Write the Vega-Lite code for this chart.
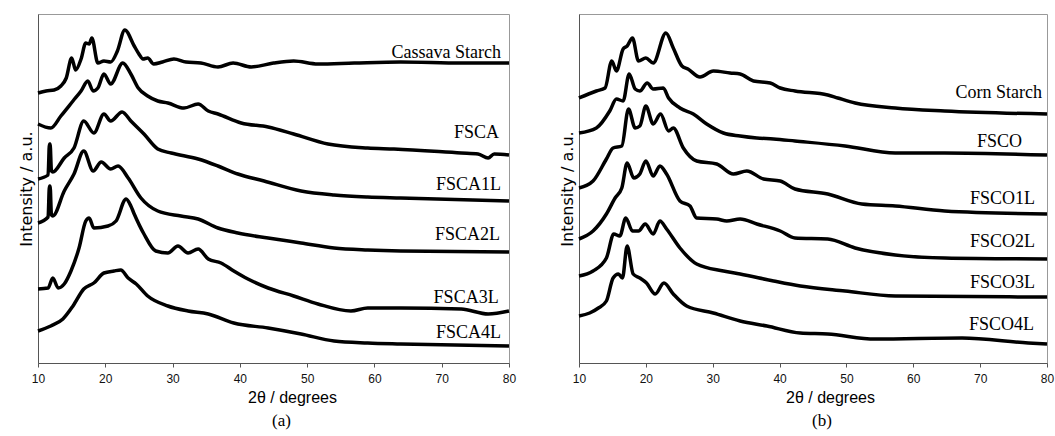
{
  "$schema": "https://vega.github.io/schema/vega-lite/v6.json",
  "padding": {"left": 17, "top": 13, "right": 5, "bottom": 0},
  "spacing": 41,
  "background": "white",
  "config": {
    "view": {"stroke": "#999", "strokeWidth": 1},
    "axis": {"grid": false, "domainColor": "#555", "tickColor": "#555", "labelColor": "#111", "titleColor": "#000", "titleFontWeight": "normal"}
  },
  "datasets": {
    "a": [
      {"s":"C","x":10,"y":270},{"s":"C","x":11.2,"y":272},{"s":"C","x":12.4,"y":273},{"s":"C","x":13.4,"y":277},{"s":"C","x":14.2,"y":285},{"s":"C","x":15.0,"y":305},{"s":"C","x":15.6,"y":293},{"s":"C","x":16.4,"y":304},{"s":"C","x":17.1,"y":320},{"s":"C","x":17.6,"y":319},{"s":"C","x":18.0,"y":325},{"s":"C","x":18.9,"y":300},{"s":"C","x":19.8,"y":302},{"s":"C","x":20.8,"y":301},{"s":"C","x":21.8,"y":312},{"s":"C","x":22.9,"y":333},{"s":"C","x":24.3,"y":317},{"s":"C","x":25.0,"y":309},{"s":"C","x":25.6,"y":304},{"s":"C","x":26.3,"y":305},{"s":"C","x":27.2,"y":299},{"s":"C","x":28.5,"y":301},{"s":"C","x":30.2,"y":304},{"s":"C","x":32.0,"y":301},{"s":"C","x":34.2,"y":300},{"s":"C","x":36.75,"y":296},{"s":"C","x":39.0,"y":300},{"s":"C","x":41.7,"y":296},{"s":"C","x":45.0,"y":300},{"s":"C","x":48.0,"y":302},{"s":"C","x":51.6,"y":299},{"s":"C","x":57.0,"y":300},{"s":"C","x":63.9,"y":301},{"s":"C","x":72.9,"y":300},{"s":"C","x":80,"y":300},
      {"s":"A","x":10,"y":239},{"s":"A","x":11.9,"y":235},{"s":"A","x":13.4,"y":247},{"s":"A","x":15.2,"y":262},{"s":"A","x":16.4,"y":272},{"s":"A","x":17.4,"y":282},{"s":"A","x":18.2,"y":272},{"s":"A","x":18.9,"y":275},{"s":"A","x":19.8,"y":289},{"s":"A","x":20.8,"y":279},{"s":"A","x":22.6,"y":300},{"s":"A","x":23.8,"y":289},{"s":"A","x":24.9,"y":275},{"s":"A","x":26.3,"y":267},{"s":"A","x":27.8,"y":262},{"s":"A","x":29.3,"y":260},{"s":"A","x":31.7,"y":255},{"s":"A","x":33.8,"y":259},{"s":"A","x":35.3,"y":252},{"s":"A","x":36.75,"y":249},{"s":"A","x":40.2,"y":240},{"s":"A","x":44.2,"y":236},{"s":"A","x":48.0,"y":229},{"s":"A","x":53.1,"y":219},{"s":"A","x":59.0,"y":215},{"s":"A","x":62.9,"y":214},{"s":"A","x":72.9,"y":210},{"s":"A","x":75.4,"y":209},{"s":"A","x":76.9,"y":205},{"s":"A","x":77.8,"y":209},{"s":"A","x":80,"y":208},
      {"s":"A1","x":10,"y":184},{"s":"A1","x":11.5,"y":188},{"s":"A1","x":11.7,"y":219},{"s":"A1","x":11.8,"y":219},{"s":"A1","x":12.0,"y":192},{"s":"A1","x":12.2,"y":191},{"s":"A1","x":13.9,"y":205},{"s":"A1","x":15.35,"y":215},{"s":"A1","x":16.8,"y":242},{"s":"A1","x":18.3,"y":230},{"s":"A1","x":19.8,"y":249},{"s":"A1","x":20.8,"y":242},{"s":"A1","x":22.5,"y":251},{"s":"A1","x":23.8,"y":242},{"s":"A1","x":25.75,"y":229},{"s":"A1","x":27.8,"y":214},{"s":"A1","x":29.8,"y":210},{"s":"A1","x":33.8,"y":204},{"s":"A1","x":36.75,"y":197},{"s":"A1","x":39.7,"y":189},{"s":"A1","x":43.6,"y":182},{"s":"A1","x":49.1,"y":172},{"s":"A1","x":54.0,"y":168},{"s":"A1","x":59.0,"y":166},{"s":"A1","x":63.9,"y":165},{"s":"A1","x":80,"y":162},
      {"s":"A2","x":10,"y":140},{"s":"A2","x":11.5,"y":146},{"s":"A2","x":11.7,"y":177},{"s":"A2","x":11.8,"y":177},{"s":"A2","x":12.0,"y":148},{"s":"A2","x":12.2,"y":147},{"s":"A2","x":13.9,"y":172},{"s":"A2","x":15.35,"y":189},{"s":"A2","x":16.8,"y":212},{"s":"A2","x":18.2,"y":192},{"s":"A2","x":19.4,"y":201},{"s":"A2","x":20.8,"y":194},{"s":"A2","x":21.9,"y":197},{"s":"A2","x":23.4,"y":185},{"s":"A2","x":25.3,"y":165},{"s":"A2","x":27.8,"y":152},{"s":"A2","x":31.25,"y":147},{"s":"A2","x":33.8,"y":144},{"s":"A2","x":36.75,"y":135},{"s":"A2","x":39.7,"y":130},{"s":"A2","x":44.2,"y":125},{"s":"A2","x":49.1,"y":120},{"s":"A2","x":54.0,"y":115},{"s":"A2","x":59.0,"y":113},{"s":"A2","x":63.9,"y":112},{"s":"A2","x":80,"y":111},
      {"s":"A3","x":10,"y":74},{"s":"A3","x":11.5,"y":75},{"s":"A3","x":12.2,"y":85},{"s":"A3","x":13.0,"y":75},{"s":"A3","x":13.9,"y":79},{"s":"A3","x":14.9,"y":92},{"s":"A3","x":16.1,"y":115},{"s":"A3","x":17.1,"y":142},{"s":"A3","x":17.6,"y":145},{"s":"A3","x":18.3,"y":135},{"s":"A3","x":20.4,"y":137},{"s":"A3","x":21.6,"y":142},{"s":"A3","x":23.1,"y":164},{"s":"A3","x":23.8,"y":157},{"s":"A3","x":24.3,"y":149},{"s":"A3","x":25.75,"y":129},{"s":"A3","x":27.5,"y":112},{"s":"A3","x":29.3,"y":110},{"s":"A3","x":30.8,"y":117},{"s":"A3","x":32.3,"y":110},{"s":"A3","x":33.8,"y":114},{"s":"A3","x":35.3,"y":104},{"s":"A3","x":37.2,"y":100},{"s":"A3","x":39.1,"y":92},{"s":"A3","x":41.2,"y":84},{"s":"A3","x":44.2,"y":75},{"s":"A3","x":48.0,"y":67},{"s":"A3","x":51.6,"y":59},{"s":"A3","x":56.5,"y":52},{"s":"A3","x":59.0,"y":55},{"s":"A3","x":63.9,"y":55},{"s":"A3","x":72.9,"y":54},{"s":"A3","x":76.9,"y":49},{"s":"A3","x":80,"y":52},
      {"s":"A4","x":10,"y":32},{"s":"A4","x":11.9,"y":37},{"s":"A4","x":13.7,"y":44},{"s":"A4","x":15.2,"y":57},{"s":"A4","x":16.8,"y":74},{"s":"A4","x":18.3,"y":80},{"s":"A4","x":19.8,"y":90},{"s":"A4","x":21.3,"y":92},{"s":"A4","x":22.3,"y":93},{"s":"A4","x":23.4,"y":85},{"s":"A4","x":24.6,"y":79},{"s":"A4","x":26.3,"y":67},{"s":"A4","x":29.3,"y":57},{"s":"A4","x":32.3,"y":52},{"s":"A4","x":35.3,"y":49},{"s":"A4","x":39.1,"y":40},{"s":"A4","x":44.2,"y":35},{"s":"A4","x":49.1,"y":29},{"s":"A4","x":54.0,"y":22},{"s":"A4","x":59.0,"y":20},{"s":"A4","x":63.9,"y":19},{"s":"A4","x":80,"y":17}
    ],
    "b": [
      {"s":"C","x":10,"y":265},{"s":"C","x":12.6,"y":272},{"s":"C","x":13.9,"y":275},{"s":"C","x":14.9,"y":302},{"s":"C","x":15.6,"y":292},{"s":"C","x":16.6,"y":314},{"s":"C","x":17.2,"y":317},{"s":"C","x":18.0,"y":325},{"s":"C","x":18.9,"y":302},{"s":"C","x":20.0,"y":305},{"s":"C","x":21.1,"y":300},{"s":"C","x":23.0,"y":330},{"s":"C","x":24.1,"y":315},{"s":"C","x":25.4,"y":297},{"s":"C","x":26.3,"y":294},{"s":"C","x":28.1,"y":286},{"s":"C","x":30.1,"y":292},{"s":"C","x":32.6,"y":290},{"s":"C","x":34.1,"y":289},{"s":"C","x":36.1,"y":282},{"s":"C","x":38.6,"y":280},{"s":"C","x":40.1,"y":275},{"s":"C","x":42.3,"y":272},{"s":"C","x":47.2,"y":268},{"s":"C","x":48.7,"y":265},{"s":"C","x":51.3,"y":260},{"s":"C","x":57.3,"y":255},{"s":"C","x":64.7,"y":252},{"s":"C","x":80,"y":249},
      {"s":"O","x":10,"y":230},{"s":"O","x":12.6,"y":235},{"s":"O","x":14.6,"y":252},{"s":"O","x":15.6,"y":264},{"s":"O","x":16.6,"y":262},{"s":"O","x":17.5,"y":289},{"s":"O","x":18.4,"y":274},{"s":"O","x":19.1,"y":272},{"s":"O","x":20.2,"y":280},{"s":"O","x":21.1,"y":274},{"s":"O","x":22.6,"y":275},{"s":"O","x":23.4,"y":265},{"s":"O","x":25.1,"y":255},{"s":"O","x":27.1,"y":249},{"s":"O","x":29.1,"y":239},{"s":"O","x":31.6,"y":230},{"s":"O","x":34.1,"y":227},{"s":"O","x":36.6,"y":225},{"s":"O","x":39.1,"y":224},{"s":"O","x":42.3,"y":222},{"s":"O","x":49.8,"y":217},{"s":"O","x":57.3,"y":210},{"s":"O","x":64.7,"y":210},{"s":"O","x":80,"y":208},
      {"s":"O1","x":10,"y":175},{"s":"O1","x":12.1,"y":182},{"s":"O1","x":14.1,"y":204},{"s":"O1","x":15.1,"y":215},{"s":"O1","x":16.4,"y":217},{"s":"O1","x":17.4,"y":254},{"s":"O1","x":18.4,"y":235},{"s":"O1","x":19.1,"y":237},{"s":"O1","x":20.0,"y":257},{"s":"O1","x":21.1,"y":239},{"s":"O1","x":22.2,"y":249},{"s":"O1","x":23.4,"y":232},{"s":"O1","x":24.1,"y":235},{"s":"O1","x":25.6,"y":215},{"s":"O1","x":27.6,"y":202},{"s":"O1","x":30.6,"y":199},{"s":"O1","x":33.1,"y":189},{"s":"O1","x":35.1,"y":192},{"s":"O1","x":37.6,"y":184},{"s":"O1","x":40.1,"y":182},{"s":"O1","x":42.3,"y":174},{"s":"O1","x":47.2,"y":169},{"s":"O1","x":52.3,"y":159},{"s":"O1","x":57.3,"y":157},{"s":"O1","x":64.7,"y":152},{"s":"O1","x":80,"y":149},
      {"s":"O2","x":10,"y":124},{"s":"O2","x":12.1,"y":132},{"s":"O2","x":14.1,"y":149},{"s":"O2","x":15.4,"y":165},{"s":"O2","x":16.4,"y":175},{"s":"O2","x":17.2,"y":200},{"s":"O2","x":18.2,"y":185},{"s":"O2","x":19.1,"y":189},{"s":"O2","x":20.0,"y":202},{"s":"O2","x":21.1,"y":187},{"s":"O2","x":22.1,"y":197},{"s":"O2","x":23.1,"y":189},{"s":"O2","x":25.1,"y":162},{"s":"O2","x":26.6,"y":157},{"s":"O2","x":27.6,"y":145},{"s":"O2","x":30.6,"y":144},{"s":"O2","x":32.1,"y":142},{"s":"O2","x":34.1,"y":144},{"s":"O2","x":36.6,"y":139},{"s":"O2","x":40.1,"y":132},{"s":"O2","x":42.3,"y":125},{"s":"O2","x":47.2,"y":124},{"s":"O2","x":51.3,"y":115},{"s":"O2","x":57.3,"y":108},{"s":"O2","x":64.7,"y":105},{"s":"O2","x":80,"y":104},
      {"s":"O3","x":10,"y":87},{"s":"O3","x":12.1,"y":92},{"s":"O3","x":14.1,"y":105},{"s":"O3","x":15.2,"y":129},{"s":"O3","x":16.1,"y":127},{"s":"O3","x":17.0,"y":145},{"s":"O3","x":18.0,"y":132},{"s":"O3","x":18.9,"y":132},{"s":"O3","x":19.9,"y":139},{"s":"O3","x":21.1,"y":129},{"s":"O3","x":22.1,"y":142},{"s":"O3","x":23.1,"y":134},{"s":"O3","x":25.1,"y":115},{"s":"O3","x":27.6,"y":99},{"s":"O3","x":31.6,"y":92},{"s":"O3","x":34.1,"y":89},{"s":"O3","x":39.1,"y":82},{"s":"O3","x":43.1,"y":77},{"s":"O3","x":49.8,"y":72},{"s":"O3","x":57.3,"y":67},{"s":"O3","x":80,"y":66},
      {"s":"O4","x":10,"y":47},{"s":"O4","x":11.6,"y":50},{"s":"O4","x":12.9,"y":55},{"s":"O4","x":14.1,"y":62},{"s":"O4","x":15.1,"y":85},{"s":"O4","x":15.9,"y":89},{"s":"O4","x":16.5,"y":85},{"s":"O4","x":17.2,"y":117},{"s":"O4","x":18.1,"y":89},{"s":"O4","x":19.1,"y":85},{"s":"O4","x":20.1,"y":80},{"s":"O4","x":21.4,"y":69},{"s":"O4","x":22.7,"y":80},{"s":"O4","x":24.1,"y":69},{"s":"O4","x":26.1,"y":57},{"s":"O4","x":30.1,"y":50},{"s":"O4","x":34.1,"y":42},{"s":"O4","x":38.1,"y":37},{"s":"O4","x":43.1,"y":30},{"s":"O4","x":47.2,"y":29},{"s":"O4","x":54.3,"y":24},{"s":"O4","x":67.3,"y":25},{"s":"O4","x":77.2,"y":20},{"s":"O4","x":80,"y":19}
    ],
    "la": [
      {"label":"Cassava Starch","x":78.8,"y":305},
      {"label":"FSCA","x":78.5,"y":225},
      {"label":"FSCA1L","x":78.8,"y":173},
      {"label":"FSCA2L","x":78.66,"y":123},
      {"label":"FSCA3L","x":78.46,"y":60},
      {"label":"FSCA4L","x":78.8,"y":25}
    ],
    "lb": [
      {"label":"Corn Starch","x":79.25,"y":265},
      {"label":"FSCO","x":76.26,"y":216},
      {"label":"FSCO1L","x":78.2,"y":159},
      {"label":"FSCO2L","x":78.2,"y":116},
      {"label":"FSCO3L","x":78.2,"y":75},
      {"label":"FSCO4L","x":78.05,"y":33}
    ]
  },
  "hconcat": [
    {
      "width": 471,
      "height": 349,
      "title": {"text": "(a)", "orient": "bottom", "font": "Liberation Serif", "fontSize": 17, "fontWeight": "normal", "color": "#000", "offset": 8, "dx": 8},
      "layer": [
        {
          "data": {"name": "a"},
          "mark": {"type": "line", "stroke": "#000", "strokeWidth": 3.5, "strokeJoin": "round", "interpolate": "monotone"},
          "encoding": {
            "x": {"field": "x", "type": "quantitative", "scale": {"domain": [10, 80], "nice": false, "zero": false},
                  "axis": {"values": [10,15,20,25,30,35,40,45,50,55,60,65,70,75,80], "labelExpr": "datum.value % 10 === 0 ? datum.label : ''", "labelFlush": false, "labelOverlap": false, "tickSize": 4, "labelPadding": 6, "labelFont": "Liberation Sans", "labelFontSize": 12, "title": "2θ / degrees", "titleFont": "Liberation Sans", "titleFontSize": 16, "titlePadding": 5, "titleX": 254}},
            "y": {"field": "y", "type": "quantitative", "scale": {"domain": [0, 349], "nice": false},
                  "axis": {"labels": false, "ticks": false, "title": "Intensity / a.u.", "titleFont": "DejaVu Sans", "titleFontSize": 16, "titlePadding": 4}},
            "detail": {"field": "s"}
          }
        },
        {
          "data": {"name": "la"},
          "mark": {"type": "text", "align": "right", "baseline": "alphabetic", "font": "Liberation Serif", "fontSize": 18, "color": "#000"},
          "encoding": {
            "x": {"field": "x", "type": "quantitative"},
            "y": {"field": "y", "type": "quantitative"},
            "text": {"field": "label"}
          }
        }
      ]
    },
    {
      "width": 468,
      "height": 349,
      "title": {"text": "(b)", "orient": "bottom", "font": "Liberation Serif", "fontSize": 17, "fontWeight": "normal", "color": "#000", "offset": 8, "dx": 9},
      "layer": [
        {
          "data": {"name": "b"},
          "mark": {"type": "line", "stroke": "#000", "strokeWidth": 3.5, "strokeJoin": "round", "interpolate": "monotone"},
          "encoding": {
            "x": {"field": "x", "type": "quantitative", "scale": {"domain": [10, 80], "nice": false, "zero": false},
                  "axis": {"values": [10,15,20,25,30,35,40,45,50,55,60,65,70,75,80], "labelExpr": "datum.value % 10 === 0 ? datum.label : ''", "labelFlush": false, "labelOverlap": false, "tickSize": 4, "labelPadding": 6, "labelFont": "Liberation Sans", "labelFontSize": 12, "title": "2θ / degrees", "titleFont": "Liberation Sans", "titleFontSize": 16, "titlePadding": 5, "titleX": 251}},
            "y": {"field": "y", "type": "quantitative", "scale": {"domain": [0, 349], "nice": false},
                  "axis": {"labels": false, "ticks": false, "title": "Intensity / a.u.", "titleFont": "DejaVu Sans", "titleFontSize": 16, "titlePadding": 4}},
            "detail": {"field": "s"}
          }
        },
        {
          "data": {"name": "lb"},
          "mark": {"type": "text", "align": "right", "baseline": "alphabetic", "font": "Liberation Serif", "fontSize": 18, "color": "#000"},
          "encoding": {
            "x": {"field": "x", "type": "quantitative"},
            "y": {"field": "y", "type": "quantitative"},
            "text": {"field": "label"}
          }
        }
      ]
    }
  ]
}
